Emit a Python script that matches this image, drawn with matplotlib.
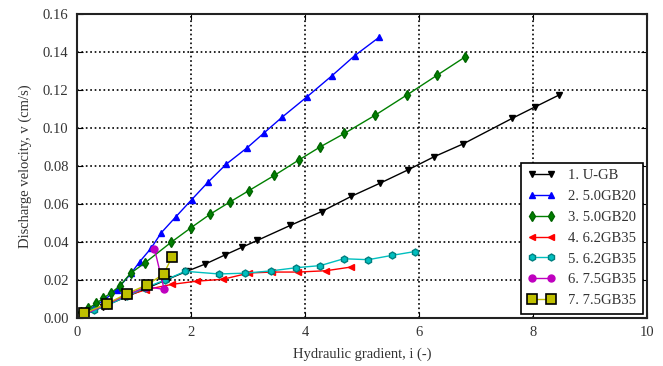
import matplotlib
matplotlib.use("Agg")
import matplotlib.pyplot as plt

plt.rcParams['font.family'] = ['Liberation Serif', 'DejaVu Serif']
plt.rcParams['xtick.direction'] = 'in'
plt.rcParams['ytick.direction'] = 'in'

# series data: hydraulic gradient i (-), velocity v (cm/s)
ugb_i = [0.1, 0.45, 0.85, 1.25, 1.6, 1.92, 2.25, 2.59, 2.90, 3.16, 3.74, 4.29, 4.81, 5.32, 5.81, 6.26, 6.78, 7.63, 8.03, 8.46]
ugb_v = [0.0015, 0.0058, 0.011, 0.016, 0.0205, 0.0245, 0.0284, 0.0331, 0.0373, 0.0408, 0.0487, 0.056, 0.064, 0.071, 0.078, 0.0848, 0.0917, 0.105, 0.111, 0.1174]

gb20a_i = [0.1, 0.3, 0.5, 0.7, 0.95, 1.10, 1.30, 1.48, 1.73, 2.01, 2.30, 2.62, 2.99, 3.29, 3.60, 4.04, 4.47, 4.87, 5.30]
gb20a_v = [0.002, 0.006, 0.010, 0.015, 0.0235, 0.0296, 0.0367, 0.0449, 0.0531, 0.0622, 0.0715, 0.081, 0.0897, 0.0976, 0.1057, 0.1165, 0.1274, 0.138, 0.1477]

gb20b_i = [0.07, 0.2, 0.34, 0.46, 0.6, 0.75, 0.94, 1.2, 1.65, 2.0, 2.34, 2.68, 3.02, 3.46, 3.89, 4.27, 4.69, 5.23, 5.79, 6.32, 6.80]
gb20b_v = [0.003, 0.0051, 0.0077, 0.0104, 0.0133, 0.0168, 0.0235, 0.0292, 0.0398, 0.0475, 0.0547, 0.061, 0.0671, 0.075, 0.0831, 0.0901, 0.0971, 0.1067, 0.1174, 0.1278, 0.1372]

gb35a_i = [0.1, 0.5, 0.9, 1.22, 1.66, 2.10, 2.56, 3.02, 3.42, 3.88, 4.37, 4.80]
gb35a_v = [0.0015, 0.007, 0.012, 0.015, 0.0177, 0.0194, 0.0204, 0.0237, 0.0242, 0.0242, 0.0249, 0.0268]

gb35b_i = [0.1, 0.3, 0.55, 0.88, 1.2, 1.55, 1.90, 2.49, 2.94, 3.40, 3.85, 4.27, 4.68, 5.11, 5.53, 5.93]
gb35b_v = [0.0015, 0.004, 0.007, 0.0115, 0.016, 0.020, 0.0246, 0.0232, 0.0236, 0.0248, 0.0265, 0.0276, 0.0312, 0.0307, 0.033, 0.035]

gb35c_i = [0.1, 0.5, 0.87, 1.21, 1.53, 1.36]
gb35c_v = [0.0015, 0.007, 0.012, 0.0165, 0.0151, 0.0365]

gb35d_i = [0.12, 0.53, 0.87, 1.23, 1.52, 1.67]
gb35d_v = [0.0024, 0.0076, 0.0127, 0.0175, 0.0231, 0.0322]

fig = plt.figure(figsize=(6.63, 3.66), dpi=100)
ax = fig.add_axes([0.116, 0.131, 0.86, 0.831])

ax.plot(ugb_i, ugb_v, 'k-', marker='v', ms=4.5, lw=1, label='1. U-GB')
ax.plot(gb20a_i, gb20a_v, 'b-', marker='^', ms=5, lw=1, label='2. 5.0GB20')
ax.plot(gb20b_i, gb20b_v, 'g-', marker='d', ms=5, lw=1, mec='darkgreen', mfc='green', label='3. 5.0GB20')
ax.plot(gb35a_i, gb35a_v, 'r-', marker='<', ms=5, lw=1, label='4. 6.2GB35')
ax.plot(gb35b_i, gb35b_v, 'c-', marker='h', ms=5, lw=1, mec='teal', label='5. 6.2GB35')
ax.plot(gb35c_i, gb35c_v, 'm-', marker='o', ms=5, lw=1, label='6. 7.5GB35')
ax.plot(gb35d_i, gb35d_v, 'y-', marker='s', ms=6.5, lw=1, mec='black', mew=1.2, label='7. 7.5GB35')

ax.set_xlim(0, 10)
ax.set_ylim(0, 0.16)
ax.set_xticks([0, 2, 4, 6, 8, 10])
ax.set_yticks([0.00, 0.02, 0.04, 0.06, 0.08, 0.10, 0.12, 0.14, 0.16])
ax.set_yticklabels(['%.2f' % t for t in ax.get_yticks()])
ax.tick_params(labelsize=10.5, top=True, right=True, length=4, pad=6, labelcolor='#333333')
ax.grid(True, color='black', linestyle=':', linewidth=1.2)
for s in ax.spines.values():
    s.set_linewidth(1.5)
    s.set_color('#222222')

ax.set_xlabel('Hydraulic gradient, i (-)', fontsize=10.5, labelpad=6, color='#333333')
ax.set_ylabel('Discharge velocity, v (cm/s)', fontsize=10.5, labelpad=8, color='#333333')

leg = ax.legend(loc='lower right', numpoints=2, fontsize=10.5, fancybox=False,
                framealpha=1, edgecolor='black', borderaxespad=0.3,
                labelspacing=0.52, handlelength=1.9, handletextpad=0.9,
                borderpad=0.45)
leg.get_frame().set_linewidth(1.2)
for t in leg.get_texts():
    t.set_color('#333333')

fig.savefig('out.png', dpi=100)
